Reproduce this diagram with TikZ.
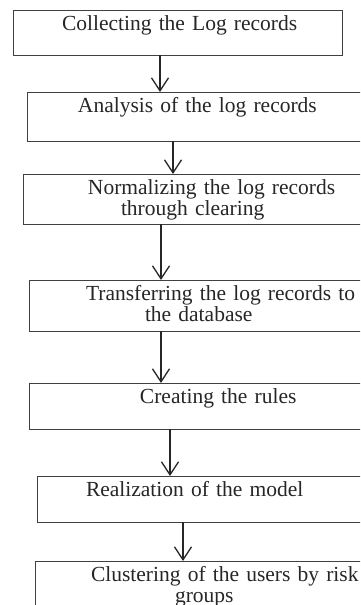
\documentclass[tikz,border=0pt]{standalone}
\usepackage{fontspec}
\setmainfont{Liberation Serif}
\usepackage{tikz}
\usetikzlibrary{arrows.meta}
\newcommand{\lpad}[1]{\hspace*{#1pt}}

\begin{document}
\begin{tikzpicture}[
  x=1pt, y=-1pt,
  box/.style={draw=black!75, line width=0.8pt, anchor=north west, align=left, outer sep=0pt,
    inner xsep=0pt, inner ysep=4pt, text height=16.5pt,
    font=\fontsize{21.5}{21}\selectfont, text=black!85},
  arr/.style={-{Straight Barb[length=13pt,width=17pt]}, line width=1.3pt, black!85}
]
\clip (0,0) rectangle (360,605);
\node[box, text width=329pt, text depth=20.5pt] (collect) at (13,10) {\lpad{49}Collecting the Log records};
\node[box, text width=343pt, text depth=24.5pt] (analysis) at (27,92) {\lpad{51}Analysis of the log records};
\node[box, text width=347pt, text depth=25.5pt] (normalize) at (23,174) {\lpad{65}Normalizing the log records\\\lpad{98}through clearing};
\node[box, text width=341pt, text depth=26.5pt] (transfer) at (29,280) {\lpad{57}Transferring the log records to\\\lpad{116}the database};
\node[box, text width=341pt, text depth=21.5pt] (rules) at (29,383) {\lpad{111}Creating the rules};
\node[box, text width=333pt, text depth=21.5pt] (model) at (37,476) {\lpad{49}Realization of the model};
\node[box, text width=335pt, text depth=35.5pt] (cluster) at (35,561) {\lpad{56}Clustering of the users by risk\\\lpad{140}groups};

\draw[arr] ([xshift=147pt]collect.south west) -- ([xshift=133pt]analysis.north west);
\draw[arr] ([xshift=146pt]analysis.south west) -- ([xshift=150pt]normalize.north west);
\draw[arr] ([xshift=138pt]normalize.south west) -- ([xshift=132pt]transfer.north west);
\draw[arr] ([xshift=132pt]transfer.south west) -- ([xshift=132pt]rules.north west);
\draw[arr] ([xshift=141pt]rules.south west) -- ([xshift=133pt]model.north west);
\draw[arr] ([xshift=146pt]model.south west) -- ([xshift=148pt]cluster.north west);
\end{tikzpicture}
\end{document}
